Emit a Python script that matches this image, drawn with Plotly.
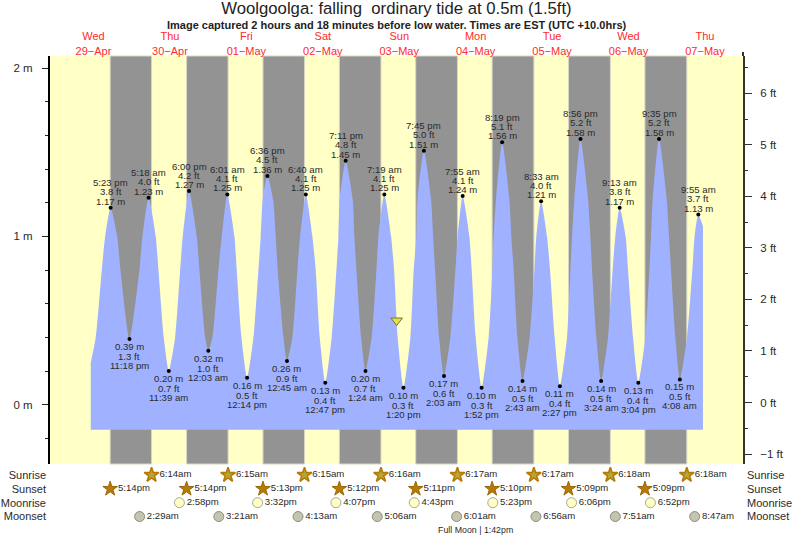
import plotly.graph_objects as go

# All times are hours since 29-Apr 00:00 EST
DAY_HOURS = [12, 36, 60, 84, 108, 132, 156, 180, 204]
DAY_LABELS = ["Wed<br>29−Apr", "Thu<br>30−Apr", "Fri<br>01−May", "Sat<br>02−May", "Sun<br>03−May",
              "Mon<br>04−May", "Tue<br>05−May", "Wed<br>06−May", "Thu<br>07−May"]

EXTREME_HOURS = [17.38, 23.30, 29.30, 35.65, 42.00, 48.05, 54.02, 60.23, 66.60, 72.75, 78.67,
                 84.78, 91.18, 97.40, 103.32, 109.33, 115.75, 122.05, 127.92, 133.87, 140.32,
                 146.72, 152.55, 158.45, 164.93, 171.40, 177.22, 183.07, 189.58, 196.13, 201.92]
EXTREME_M = [1.17, 0.39, 1.23, 0.20, 1.27, 0.32, 1.25, 0.16, 1.36, 0.26, 1.25,
             0.13, 1.45, 0.20, 1.25, 0.10, 1.51, 0.17, 1.24, 0.10, 1.56,
             0.14, 1.21, 0.11, 1.58, 0.14, 1.17, 0.13, 1.58, 0.15, 1.13]
EXTREME_FT = [3.8, 1.3, 4.0, 0.7, 4.2, 1.0, 4.1, 0.5, 4.5, 0.9, 4.1,
              0.4, 4.8, 0.7, 4.1, 0.3, 5.0, 0.6, 4.1, 0.3, 5.1,
              0.5, 4.0, 0.4, 5.2, 0.5, 3.8, 0.4, 5.2, 0.5, 3.7]
EXTREME_TIMES = ["5:23 pm", "11:18 pm", "5:18 am", "11:39 am", "6:00 pm", "12:03 am", "6:01 am",
                 "12:14 pm", "6:36 pm", "12:45 am", "6:40 am", "12:47 pm", "7:11 pm", "1:24 am",
                 "7:19 am", "1:20 pm", "7:45 pm", "2:03 am", "7:55 am", "1:52 pm", "8:19 pm",
                 "2:43 am", "8:33 am", "2:27 pm", "8:56 pm", "3:24 am", "9:13 am", "3:04 pm",
                 "9:35 pm", "4:08 am", "9:55 am"]

# Hours at which the drawn tide curve crosses a given level
CROSS_122 = [65.14, 68.41, 89.32, 93.40, 113.71, 118.00, 138.40, 142.60, 163.00, 167.30, 187.60, 192.00]
CROSS_100 = [15.67, 19.43, 27.37, 31.55, 40.03, 44.42, 52.27, 56.26, 64.51, 69.22, 76.88, 80.74,
             88.91, 93.93, 101.46, 105.45, 113.39, 118.64, 126.36, 130.03, 137.66, 143.21,
             151.06, 154.42, 162.27, 168.02, 175.86, 179.10, 187.07, 192.72, 200.76]
CROSS_080 = [14.60, 20.47, 26.43, 32.40, 39.21, 45.27, 51.23, 56.98, 63.79, 69.85, 76.03, 81.78,
             88.28, 94.56, 100.84, 106.39, 112.54, 119.26, 125.64, 130.75, 137.25, 143.94,
             150.44, 155.36, 161.74, 168.55, 175.02, 179.85, 186.54, 193.35, 200.04]
CROSS_040 = [12.71, 34.06, 37.64, 47.06, 49.35, 58.45, 62.22, 71.64, 74.46, 83.04, 86.80, 96.03,
             99.36, 107.52, 111.51, 120.52, 124.07, 132.01, 136.09, 145.10, 148.96, 156.81,
             160.70, 169.90, 173.57, 181.42, 185.28, 194.70, 198.37]
CURVE_START = (11.14, 0.25)
CURVE_END = (203.38, 1.06)
CURVE_FLOOR_M = -0.15

NOW_HOUR = 107.2
NOW_M = 0.50

SUNSET_HOURS = [17.23, 41.23, 65.22, 89.20, 113.18, 137.17, 161.15, 185.15]
SUNSET_LABELS = ["5:14pm", "5:14pm", "5:13pm", "5:12pm", "5:11pm", "5:10pm", "5:09pm", "5:09pm"]
SUNRISE_HOURS = [30.23, 54.25, 78.25, 102.27, 126.28, 150.28, 174.30, 198.30]
SUNRISE_LABELS = ["6:14am", "6:15am", "6:15am", "6:16am", "6:17am", "6:17am", "6:18am", "6:18am"]
MOONRISE_HOURS = [38.97, 63.53, 88.12, 112.72, 137.38, 162.10, 186.87]
MOONRISE_LABELS = ["2:58pm", "3:32pm", "4:07pm", "4:43pm", "5:23pm", "6:06pm", "6:52pm"]
MOONSET_HOURS = [26.48, 51.35, 76.22, 101.10, 126.02, 150.93, 175.85, 200.78]
MOONSET_LABELS = ["2:29am", "3:21am", "4:13am", "5:06am", "6:01am", "6:56am", "7:51am", "8:47am"]
ROW_NAMES = ["Sunrise", "Sunset", "Moonrise", "Moonset"]
PHASE_HOUR = 132
PHASE_LABEL = "Full Moon | 1:42pm"

FONT = "Liberation Sans"
TXT = "#2A2A2A"
W, H = 793, 538
L, R, T, B = 49.5, 742.7, 56.0, 464.0
plot_h = H - T
split = (H - B) / plot_h

curve = sorted(
    [CURVE_START, CURVE_END]
    + list(zip(EXTREME_HOURS, EXTREME_M))
    + [(h, 1.22) for h in CROSS_122]
    + [(h, 1.0) for h in CROSS_100]
    + [(h, 0.8) for h in CROSS_080]
    + [(h, 0.4) for h in CROSS_040]
)
cx = [p[0] for p in curve]
cy = [p[1] for p in curve]

fig = go.Figure()

# yellow day background + grey nights
fig.add_shape(type="rect", xref="x domain", yref="y domain", x0=0, x1=1, y0=0, y1=1,
              fillcolor="#FFFFC6", line_width=0, layer="below")
for a, b in zip(SUNSET_HOURS, SUNRISE_HOURS):
    fig.add_shape(type="rect", xref="x", yref="y domain", x0=a, x1=b, y0=0, y1=1,
                  fillcolor="#939393", line=dict(color="#D6D6C4", width=1), layer="below")

fig.add_trace(go.Scatter(x=[CURVE_START[0], CURVE_END[0]], y=[CURVE_FLOOR_M, CURVE_FLOOR_M],
                         mode="lines", line=dict(width=0, color="#A0B2FF"), yaxis="y", hoverinfo="skip"))
fig.add_trace(go.Scatter(x=cx, y=cy, mode="lines", fill="tonexty", fillcolor="#A0B2FF",
                         line=dict(width=0, color="#A0B2FF", shape="spline", smoothing=0.6),
                         yaxis="y", hoverinfo="skip"))
fig.add_trace(go.Scatter(x=EXTREME_HOURS, y=EXTREME_M, mode="markers",
                         marker=dict(color="black", size=4), yaxis="y"))
fig.add_trace(go.Scatter(x=[NOW_HOUR], y=[NOW_M], mode="markers",
                         marker=dict(symbol="triangle-down", size=10, color="#E6E04A",
                                     line=dict(color="#77772A", width=1)), yaxis="y"))
# invisible feet series that carries the right-hand axis
fig.add_trace(go.Scatter(x=EXTREME_HOURS, y=EXTREME_FT, mode="markers",
                         marker=dict(opacity=0, size=1), yaxis="y2", hoverinfo="skip"))

def row(x, r, labels, **marker):
    fig.add_trace(go.Scatter(x=x, y=[r] * len(x), mode="markers+text", text=labels,
                             textposition="middle right",
                             textfont=dict(family=FONT, size=9.6, color=TXT),
                             marker=marker, yaxis="y3", cliponaxis=False))

row(SUNRISE_HOURS, 0, SUNRISE_LABELS, symbol="star", size=11, color="#B4A83C",
    line=dict(color="#B87A00", width=1.6))
row(SUNSET_HOURS, 1, SUNSET_LABELS, symbol="star", size=11, color="#B87A00",
    line=dict(color="#99660A", width=1))
row(MOONRISE_HOURS, 2, MOONRISE_LABELS, symbol="circle", size=10, color="#FFFFC6",
    line=dict(color="#A8A890", width=1))
row(MOONSET_HOURS, 3, MOONSET_LABELS, symbol="circle", size=10, color="#C4C4B0",
    line=dict(color="#8C8C80", width=1))
fig.add_trace(go.Scatter(x=[PHASE_HOUR], y=[4], mode="text", text=[PHASE_LABEL],
                         textfont=dict(family=FONT, size=8.8, color=TXT), yaxis="y3"))
fig.add_trace(go.Scatter(x=EXTREME_HOURS[:1], y=[0], mode="markers", marker=dict(opacity=0, size=1),
                         yaxis="y4", hoverinfo="skip"))

# labels at each high / low
for i, (h, m, ft, t) in enumerate(zip(EXTREME_HOURS, EXTREME_M, EXTREME_FT, EXTREME_TIMES)):
    high = i % 2 == 0
    lines = [(f"{m:.2f} m", 6.5 if high else -7.5),
             (f"{ft:.1f} ft", 16.0 if high else -17.5),
             (t, 25.0 if high else -26.5)]
    for s, dy in lines:
        fig.add_annotation(x=h, y=m, xref="x", yref="y", text=s, showarrow=False, yshift=dy,
                           xanchor="center", yanchor="middle",
                           font=dict(family=FONT, size=9.6, color=TXT))

fig.add_annotation(xref="paper", yref="paper", x=(396.5 - L) / (R - L), y=1 + (T - 24.5) / plot_h,
                   text="<b>Image captured 2 hours and 18 minutes before low water. Times are EST (UTC +10.0hrs)</b>",
                   showarrow=False, xanchor="center", yanchor="middle",
                   font=dict(family=FONT, size=11, color="#222222"))
# the right axis stands a little above the plot
fig.add_shape(type="line", xref="paper", yref="paper", x0=1, x1=1, y0=1, y1=1 + 4 / plot_h,
              line=dict(color="#333333", width=2))

fig.update_layout(
    width=W, height=H, autosize=False,
    margin=dict(l=L, r=W - R, t=T, b=0, pad=0, autoexpand=False),
    paper_bgcolor="white", plot_bgcolor="white", showlegend=False,
    font=dict(family=FONT, color=TXT),
    title=dict(text="Woolgoolga: falling  ordinary tide at 0.5m (1.5ft)", x=396.5 / W, xanchor="center",
               y=1 - 8.5 / H, yanchor="middle", automargin=False, font=dict(family=FONT, size=16.7, color="#222222")),
    xaxis=dict(range=[-1.66, 215.95], side="top", anchor="y", tickmode="array", tickvals=DAY_HOURS,
               ticktext=DAY_LABELS, ticks="", showgrid=False, zeroline=False, showline=False, automargin=False,
               ticklabelstandoff=-2, tickfont=dict(family=FONT, size=11, color="#FF2A2A"), tickangle=0),
    yaxis=dict(domain=[split, 1], range=[-0.353, 2.073], tickmode="array", tickvals=[0, 1, 2], automargin=False,
               ticktext=["0 m", "1 m", "2 m"], ticks="outside", ticklen=6, tickwidth=1, tickcolor="#222",
               ticklabelstandoff=7, showgrid=False, zeroline=False, showline=True, linecolor="black", linewidth=2,
               tickfont=dict(family=FONT, size=11.5, color=TXT),
               minor=dict(tickmode="array", tickvals=[-0.2, 0.2, 0.4, 0.6, 0.8, 1.2, 1.4, 1.6, 1.8],
                          ticks="outside", ticklen=3, tickcolor="#222", tickwidth=1, showgrid=False)),
    yaxis2=dict(domain=[split, 1], range=[-1.194, 6.724], overlaying="y", side="right", anchor="x", automargin=False,
                tickmode="array", tickvals=[-1, 0, 1, 2, 3, 4, 5, 6],
                ticktext=["−1 ft", "0 ft", "1 ft", "2 ft", "3 ft", "4 ft", "5 ft", "6 ft"],
                ticks="outside", ticklen=7, tickwidth=1, tickcolor="#333", ticklabelstandoff=6,
                showgrid=False, zeroline=False, showline=True, linecolor="#333333", linewidth=2,
                tickfont=dict(family=FONT, size=11.5, color=TXT),
                minor=dict(tickmode="array", tickvals=[-0.5, 0.5, 1.5, 2.5, 3.5, 4.5, 5.5, 6.5],
                           ticks="outside", ticklen=3, tickcolor="#333", tickwidth=1, showgrid=False)),
    yaxis3=dict(domain=[0, split], range=[4.549, -0.794], anchor="x", tickmode="array", tickvals=[0, 1, 2, 3],
                ticktext=ROW_NAMES, ticks="", showgrid=False, zeroline=False, showline=False, automargin=False,
                ticklabelstandoff=3, tickfont=dict(family=FONT, size=11, color=TXT)),
    yaxis4=dict(domain=[0, split], range=[4.549, -0.794], anchor="x", overlaying="y3", side="right", automargin=False,
                tickmode="array", tickvals=[0, 1, 2, 3], ticktext=ROW_NAMES, ticks="", showgrid=False,
                zeroline=False, showline=False, ticklabelstandoff=3, tickfont=dict(family=FONT, size=11, color=TXT)),
)

fig.write_html("out.html", config={"displayModeBar": False}, post_script="document.body.style.margin='0';")
